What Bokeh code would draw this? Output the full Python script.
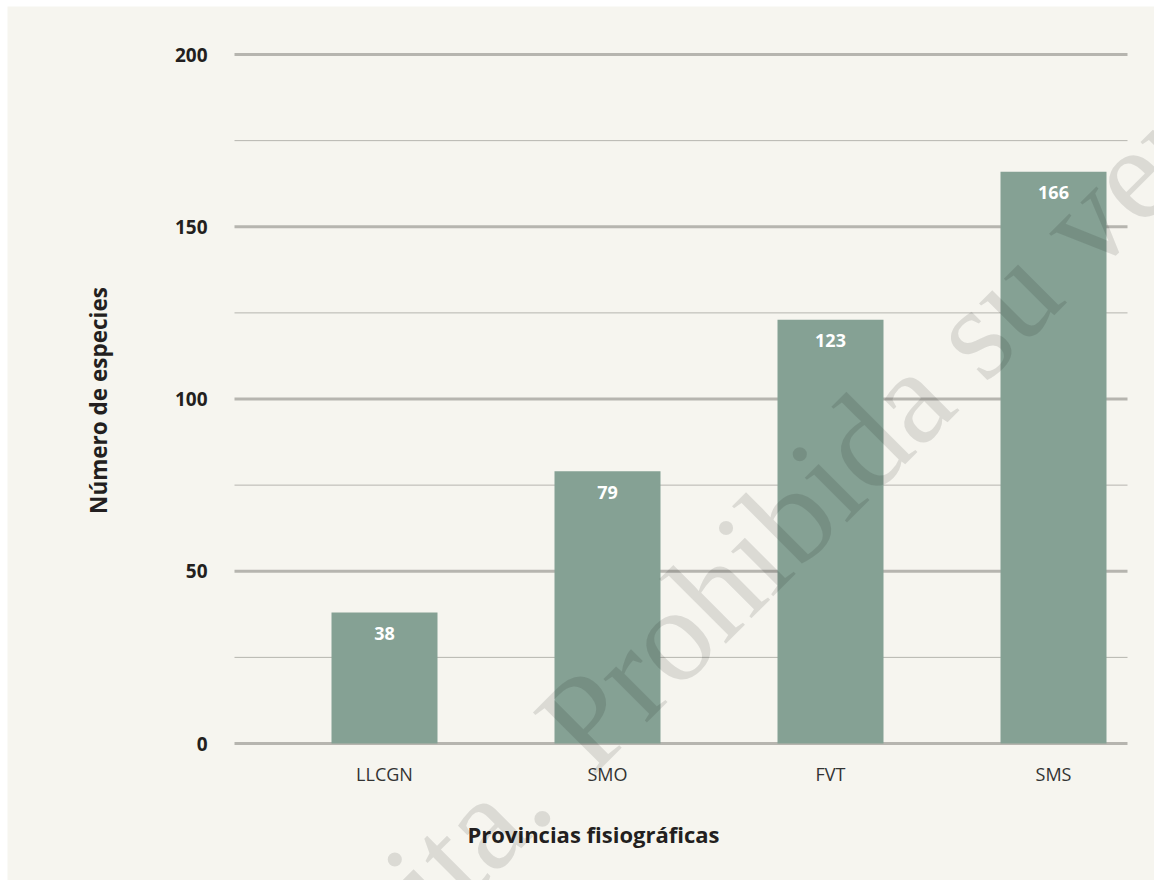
import math
from bokeh.plotting import figure
from bokeh.models import ColumnDataSource, Range1d, Label
from bokeh.core.properties import value
from bokeh.embed import file_html
from bokeh.resources import INLINE

# ---- data ----
categories = ["LLCGN", "SMO", "FVT", "SMS"]
species = [38, 79, 123, 166]
y_major_ticks = [0, 50, 100, 150, 200]
y_minor_ticks = [25, 75, 125, 175]
x_title = "Provincias fisiográficas"
y_title = "Número de especies"
watermark_left = "Distribución gratuita."
watermark_right = "Prohibida su venta."

# ---- style / layout ----
BG = "#f6f5ef"
BAR = "#85a194"
GRID = "#b6b5af"
DARK = "#231f20"
FONT = "Open Sans"

W, H = 1154, 880
X0PX, XSTEP = 384, 223      # pixel of first category, pixels per category
Y0PX, YPX = 743, 3.445      # pixel of value 0, pixels per unit
GRID_L, GRID_R = 234, 1127  # horizontal extent of the plotting area


def dx(px):
    return (px - X0PX) / XSTEP


def dy(py):
    return (Y0PX - py) / YPX


p = figure(width=W, height=H,
           x_range=Range1d(dx(0), dx(W)), y_range=Range1d(dy(H), dy(0)),
           output_backend="svg", toolbar_location=None,
           x_axis_location=None, y_axis_location=None, min_border=0)
p.grid.visible = False
p.background_fill_color = "white"
p.border_fill_color = "white"
p.outline_line_color = None

# page background panel (thin white margin at top/left as in the original)
p.quad(left=dx(7), right=dx(W + 10), top=dy(6), bottom=dy(H + 10),
       fill_color=BG, line_color=None, level="underlay")

xs = list(range(len(categories)))

# grid lines (major thick, minor thin)
major_src = ColumnDataSource(dict(y=y_major_ticks))
minor_src = ColumnDataSource(dict(y=y_minor_ticks))
p.segment(x0=dx(GRID_L), x1=dx(GRID_R), y0="y", y1="y", source=minor_src,
          line_color=GRID, line_width=1)
p.segment(x0=dx(GRID_L), x1=dx(GRID_R), y0="y", y1="y", source=major_src,
          line_color=GRID, line_width=3)

# bars
source = ColumnDataSource(dict(x=xs, top=species, label=[str(v) for v in species],
                               cat=categories))
p.vbar(x="x", top="top", bottom=0, width=0.4753, source=source,
       fill_color=BAR, line_color=None)

# value labels inside bars
p.text(x="x", y="top", text="label", source=source,
       text_align="center", text_baseline="middle", y_offset=21,
       text_color="white", text_font=value(FONT),
       text_font_style="bold", text_font_size="18px")

# y tick labels
ytl = ColumnDataSource(dict(y=y_major_ticks, t=[str(v) for v in y_major_ticks]))
p.text(x=dx(207), y="y", text="t", source=ytl,
       text_align="right", text_baseline="middle",
       text_color=DARK, text_font=value(FONT),
       text_font_style="bold", text_font_size="19px")

# x tick labels
p.text(x="x", y=dy(773), text="cat", source=source,
       text_align="center", text_baseline="middle",
       text_color="#333333", text_font=value(FONT),
       text_font_style="normal", text_font_size="18px")

# axis titles
p.text(x=[dx(98)], y=[dy(400)], text=[y_title], angle=math.pi / 2,
       text_align="center", text_baseline="middle",
       text_color=DARK, text_font=value(FONT),
       text_font_style="bold", text_font_size="22.5px")
p.text(x=[dx(593)], y=[dy(833)], text=[x_title],
       text_align="center", text_baseline="middle",
       text_color=DARK, text_font=value(FONT),
       text_font_style="bold", text_font_size="22px")

# watermark (diagonal, translucent)
wm_style = dict(angle=math.pi / 4, text_font="Liberation Serif",
                text_font_size="134px", text_color="black", text_alpha=0.11,
                text_baseline="alphabetic")
p.add_layout(Label(x=dx(526), y=dy(779), text=watermark_left,
                   text_align="right", **wm_style))
p.add_layout(Label(x=dx(560), y=dy(745), text=watermark_right,
                   text_align="left", **wm_style))

open("out.html", "w").write(file_html(p, INLINE))
